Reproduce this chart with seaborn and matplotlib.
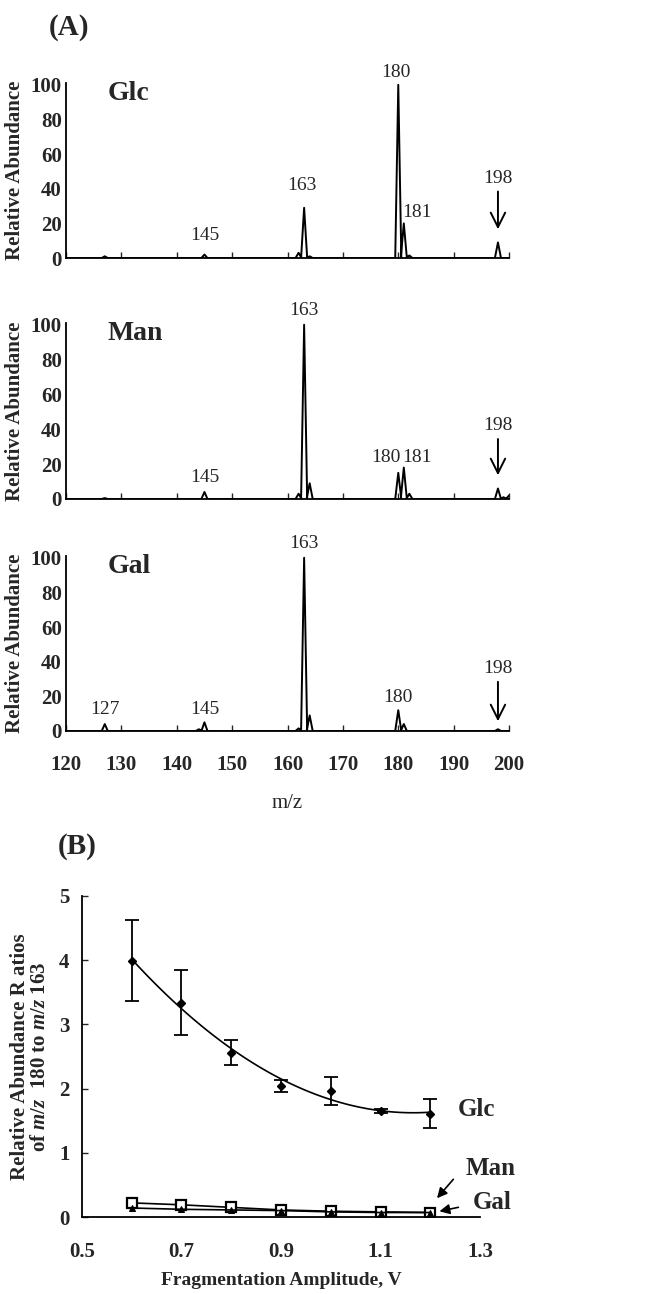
import numpy as np
import pandas as pd
import matplotlib
matplotlib.use("Agg")
import matplotlib.pyplot as plt
import seaborn as sns

# panel A: peak lists (m/z, relative abundance)
glc_mz = [127, 145, 162, 163, 164, 180, 181, 182, 198]
glc_int = [1, 2, 3, 29, 1, 100, 20, 1.5, 9]
man_mz = [127, 145, 162, 163, 164, 180, 181, 182, 198, 199, 200]
man_int = [0.5, 4, 3, 100, 9, 15, 18, 3, 6, 1, 2]
gal_mz = [127, 144, 145, 162, 163, 164, 180, 181, 198]
gal_int = [4, 1, 5, 1.5, 100, 9, 12, 4, 1]

# panel B: ratio of m/z 180 to m/z 163 vs fragmentation amplitude
amp = [0.6, 0.7, 0.8, 0.9, 1.0, 1.1, 1.2]
glc_ratio = [3.99, 3.34, 2.56, 2.04, 1.96, 1.65, 1.61]
glc_err = [0.63, 0.51, 0.19, 0.10, 0.22, 0.03, 0.23]
man_ratio = [0.22, 0.19, 0.15, 0.11, 0.09, 0.08, 0.07]
gal_ratio = [0.14, 0.12, 0.11, 0.10, 0.08, 0.07, 0.07]

sns.set_style("white")
plt.rcParams['font.family'] = ['Liberation Serif', 'DejaVu Serif']
plt.rcParams['mathtext.fontset'] = 'custom'
plt.rcParams['mathtext.it'] = 'Liberation Serif:italic:bold'
plt.rcParams['mathtext.rm'] = 'Liberation Serif:bold'


def spectrum_frame(mz, inten, hw=0.55):
    # baseline plus a narrow profile for every peak
    xs = [120.0]
    ys = [0.0]
    for m, h in zip(mz, inten):
        xs += [m - hw, m, m + hw]
        ys += [0.0, h, 0.0]
    xs.append(200.0)
    ys.append(0.0)
    return pd.DataFrame({"mz": xs, "abund": ys})


fig = plt.figure(figsize=(6.58, 12.94), dpi=100)

panels = [
    ("Glc", glc_mz, glc_int, [0.1003, 0.8006, 0.6733, 0.1352]),
    ("Man", man_mz, man_int, [0.1003, 0.6144, 0.6733, 0.1360]),
    ("Gal", gal_mz, gal_int, [0.1003, 0.4351, 0.6733, 0.1352]),
]

axes_a = []
for name, mz, inten, rect in panels:
    ax = fig.add_axes(rect)
    df = spectrum_frame(mz, inten)
    sns.lineplot(data=df, x="mz", y="abund", ax=ax, color="black", lw=1.4,
                 estimator=None, sort=False)
    ax.set_xlim(120, 200)
    ax.set_ylim(0, 101)
    ax.set_xticks(np.arange(120, 201, 10))
    ax.set_yticks([0, 20, 40, 60, 80, 100])
    ax.tick_params(axis="x", direction="in", length=4, width=1, bottom=True)
    ax.tick_params(axis="y", direction="in", length=0, left=True, pad=3)
    for lab in ax.get_yticklabels():
        lab.set_fontweight("bold")
        lab.set_fontsize(15)
    ax.set_ylabel("Relative Abundance", fontsize=15, fontweight="bold")
    ax.yaxis.set_label_coords(-0.093, 0.5)
    ax.set_xlabel("")
    for s in ["top", "right"]:
        ax.spines[s].set_visible(False)
    for s in ["left", "bottom"]:
        ax.spines[s].set_color("black")
        ax.spines[s].set_linewidth(1.3)
    ax.text(127.5, 95, name, fontsize=20, fontweight="bold", va="center", ha="left")
    axes_a.append(ax)

ax1, ax2, ax3 = axes_a
for ax in (ax1, ax2):
    ax.set_xticklabels([])
for lab in ax3.get_xticklabels():
    lab.set_fontweight("bold")
    lab.set_fontsize(15)
ax3.tick_params(axis="x", pad=17)
ax3.set_xlabel("m/z", fontsize=15, labelpad=14)

pk = dict(fontsize=14, ha="center", va="center")
ax1.text(145, 13, "145", **pk)
ax1.text(162.6, 42, "163", **pk)
ax1.text(179.6, 107, "180", **pk)
ax1.text(183.4, 26, "181", **pk)
ax2.text(145, 12.5, "145", **pk)
ax2.text(163, 108, "163", **pk)
ax2.text(177.7, 24, "180", **pk)
ax2.text(183.4, 24, "181", **pk)
ax3.text(127, 12.5, "127", **pk)
ax3.text(145, 12.5, "145", **pk)
ax3.text(163, 108, "163", **pk)
ax3.text(180, 19.5, "180", **pk)

for ax, top, tip in ((ax1, 40, 15), (ax2, 36, 12), (ax3, 30, 4)):
    ax.text(198, top + 6, "198", **pk)
    ax.annotate("", xy=(198, tip), xytext=(198, top),
                arrowprops=dict(arrowstyle="->", color="black", lw=1.4,
                                mutation_scale=26))

fig.text(0.105, 0.979, "(A)", fontsize=21, fontweight="bold", ha="center", va="center")

# panel B
axb = fig.add_axes([0.1246, 0.0595, 0.6049, 0.2481])
dfb = pd.DataFrame({"amp": amp, "glc": glc_ratio, "err": glc_err,
                    "man": man_ratio, "gal": gal_ratio})
sns.regplot(data=dfb, x="amp", y="glc", order=2, ci=None, scatter=False,
            ax=axb, line_kws=dict(color="black", lw=1.2), truncate=True)
axb.errorbar(dfb["amp"], dfb["glc"], yerr=dfb["err"], fmt="D", ms=4,
             color="black", ecolor="black", elinewidth=1.3, capsize=5, capthick=1.3)
sns.lineplot(data=dfb, x="amp", y="man", ax=axb, color="black", lw=1.2,
             marker="s", markersize=7, markerfacecolor="white",
             markeredgecolor="black", markeredgewidth=1.6)
sns.lineplot(data=dfb, x="amp", y="gal", ax=axb, color="black", lw=1.2,
             marker="^", markersize=5, markerfacecolor="black",
             markeredgecolor="black")
axb.set_xlim(0.5, 1.3)
axb.set_ylim(0, 5)
axb.set_xticks([0.5, 0.7, 0.9, 1.1, 1.3])
axb.set_xticklabels(["0.5", "0.7", "0.9", "1.1", "1.3"])
axb.set_yticks([0, 1, 2, 3, 4, 5])
axb.tick_params(axis="y", direction="in", length=4, width=1, left=True, pad=9)
axb.tick_params(axis="x", direction="in", length=0, bottom=False, pad=18)
for lab in axb.get_xticklabels() + axb.get_yticklabels():
    lab.set_fontweight("bold")
    lab.set_fontsize(15)
for s in ["top", "right"]:
    axb.spines[s].set_visible(False)
for s in ["left", "bottom"]:
    axb.spines[s].set_color("black")
    axb.spines[s].set_linewidth(1.3)
axb.set_xlabel("Fragmentation Amplitude, V", fontsize=14, fontweight="bold", labelpad=7)
axb.set_ylabel("Relative Abundance R atios\nof $m/z$  180 to $m/z$ 163",
               fontsize=15, fontweight="bold", linespacing=1.0)
axb.yaxis.set_label_coords(-0.08, 0.5)

axb.text(1.255, 1.67, "Glc", fontsize=18, fontweight="bold", va="center", ha="left")
axb.text(1.272, 0.75, "Man", fontsize=18, fontweight="bold", va="center", ha="left")
axb.text(1.286, 0.22, "Gal", fontsize=18, fontweight="bold", va="center", ha="left")
axb.annotate("", xy=(1.21, 0.26), xytext=(1.25, 0.62),
             arrowprops=dict(arrowstyle="-|>", color="black", lw=1.2, mutation_scale=15),
             annotation_clip=False)
axb.annotate("", xy=(1.213, 0.08), xytext=(1.262, 0.16),
             arrowprops=dict(arrowstyle="-|>", color="black", lw=1.2, mutation_scale=15),
             annotation_clip=False)

fig.text(0.117, 0.3455, "(B)", fontsize=21, fontweight="bold", ha="center", va="center")

fig.savefig("out.png", dpi=100)
